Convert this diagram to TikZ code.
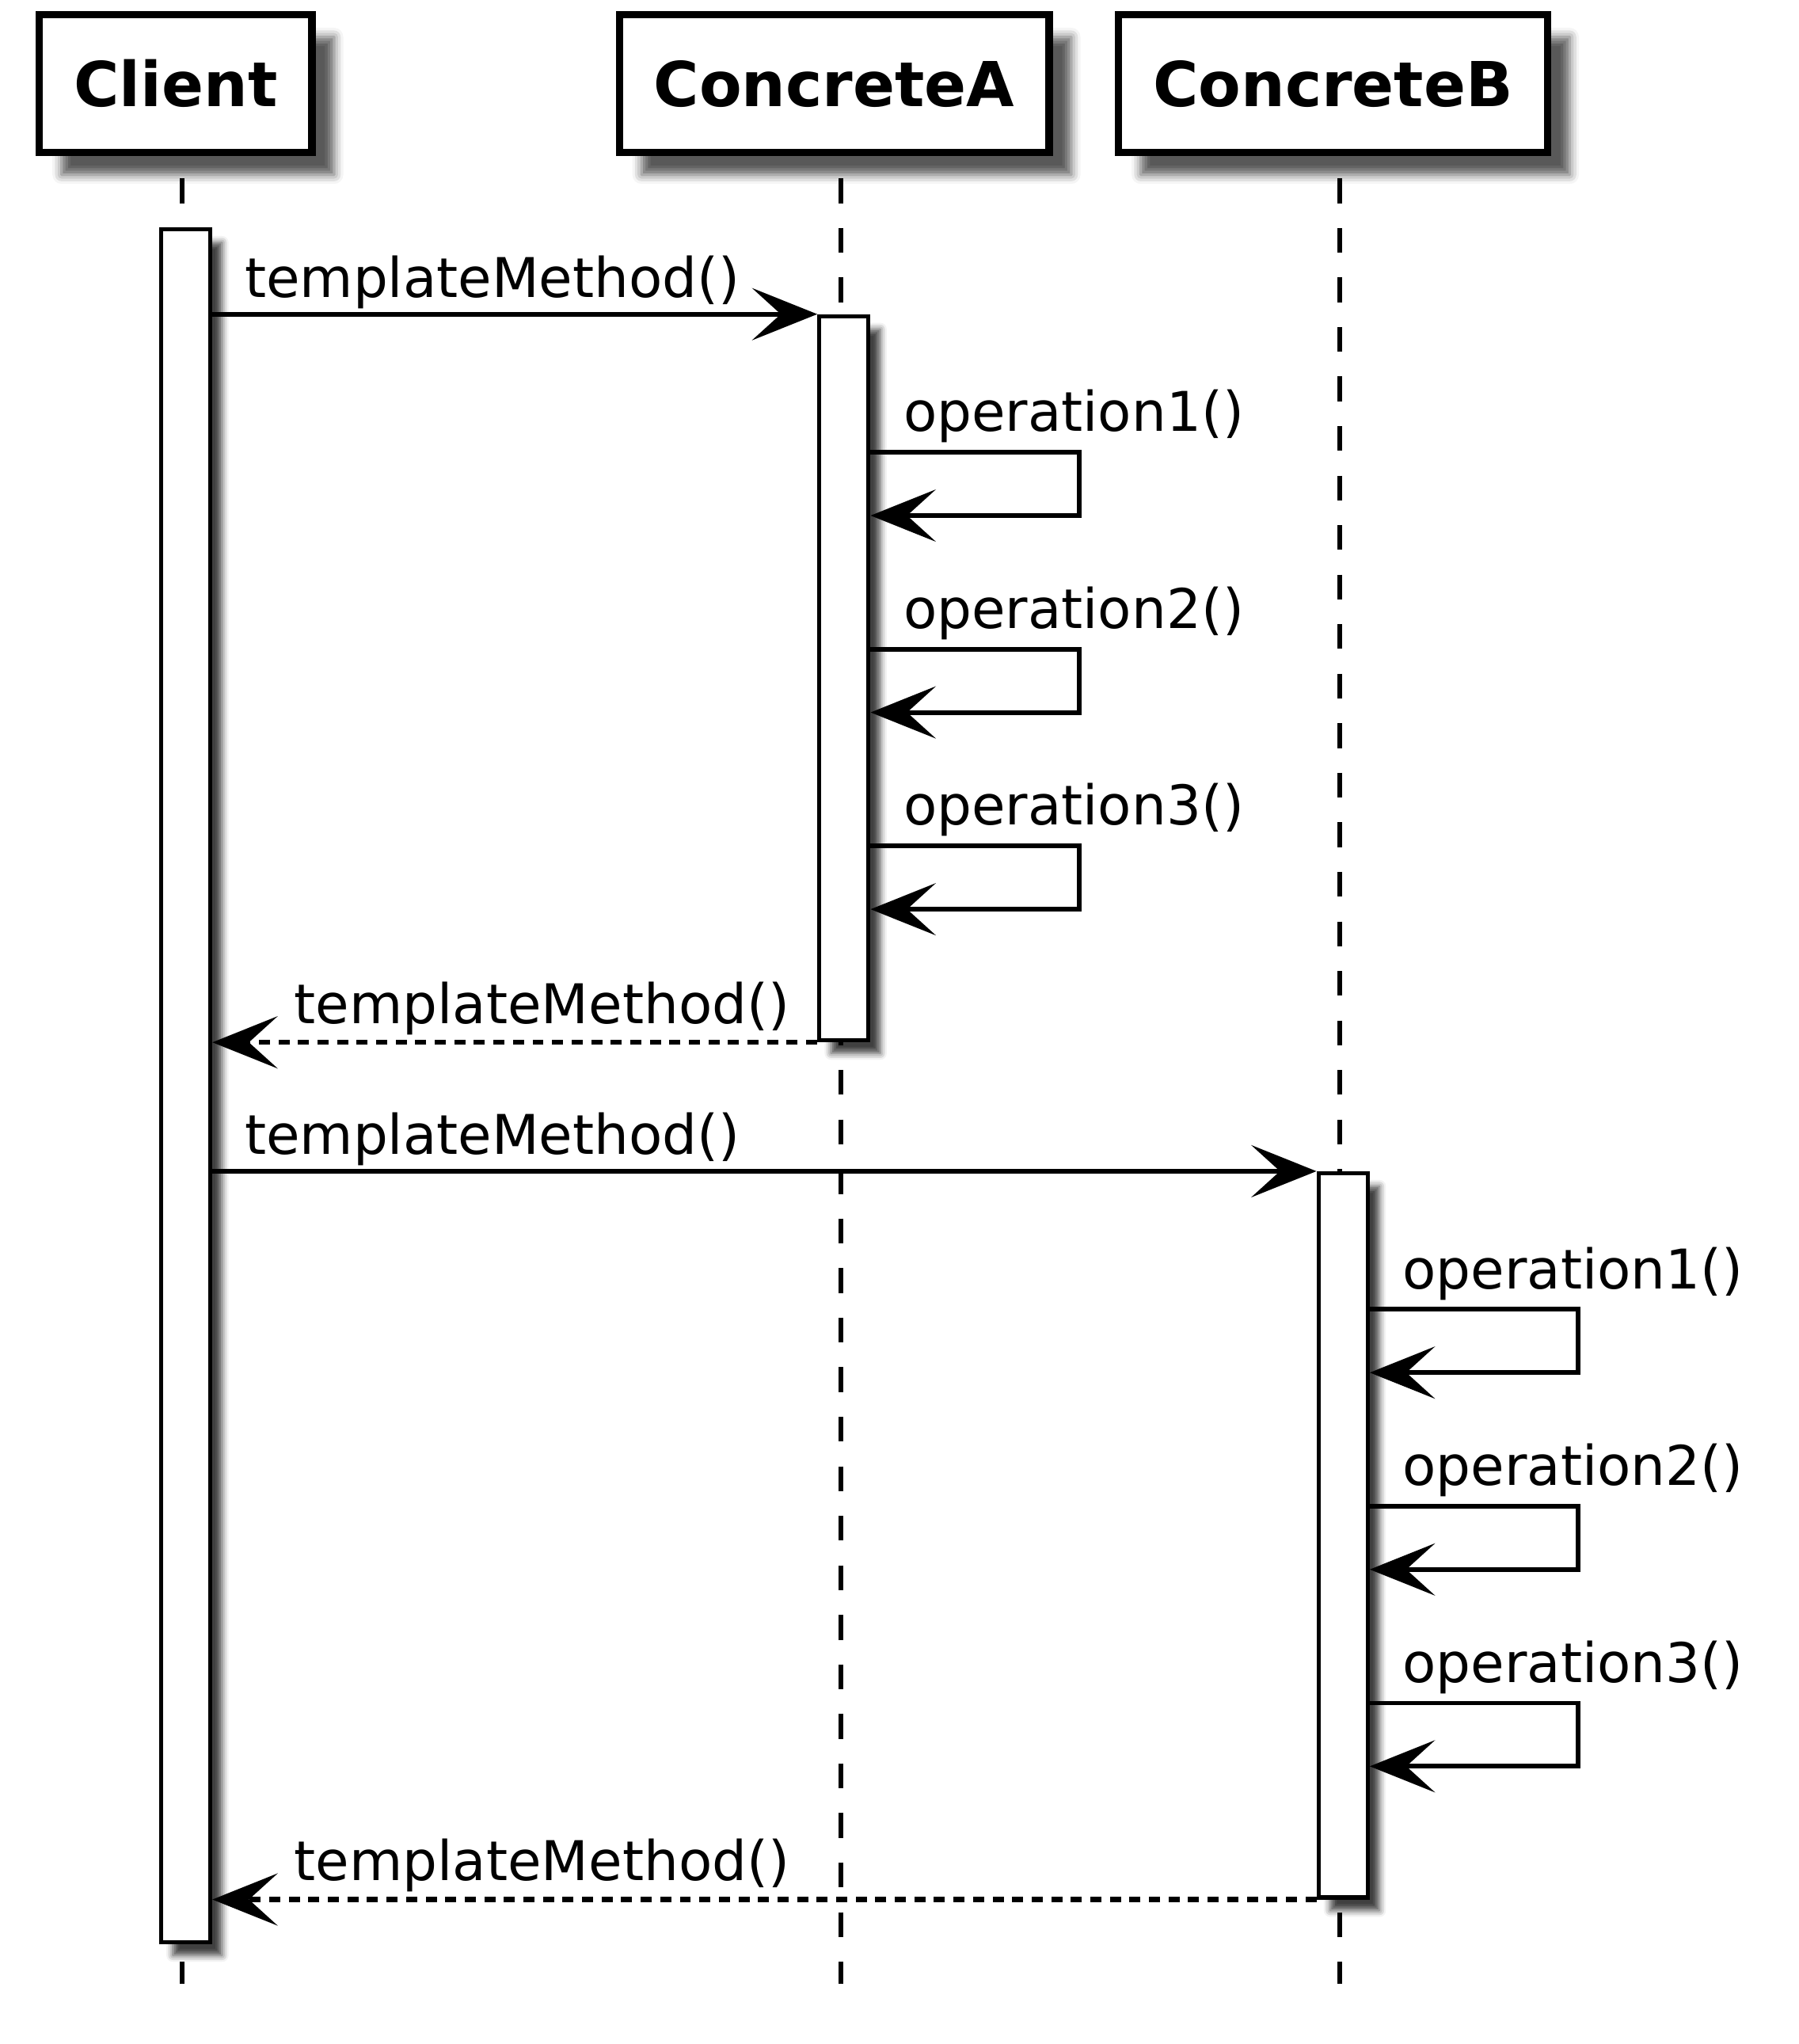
\documentclass[tikz,border=0pt]{standalone}
\usepackage{fontspec}
\setmainfont{DejaVu Sans}
\usetikzlibrary{positioning, arrows.meta, shadows.blur}

\begin{document}
\begin{tikzpicture}[
    x=1pt, y=-1pt,
    head/.style={
        draw,
        line width=5.6pt,
        fill=white,
        font=\fontsize{47.5}{56}\selectfont\bfseries,
        inner xsep=26.5pt,
        minimum height=105.7pt,
        blur shadow={shadow xshift=17pt, shadow yshift=-17pt, shadow blur radius=7pt, shadow opacity=65}
    },
    actbar/.style={
        draw,
        line width=3.2pt,
        fill=white,
        inner sep=0pt,
        minimum width=37.7pt,
        blur shadow={shadow xshift=9pt, shadow yshift=-10pt, shadow blur radius=5pt, shadow opacity=75}
    },
    lifeline/.style={line width=3.5pt, dash pattern=on 19pt off 19pt},
    msg/.style={line width=3.6pt, -{Stealth[length=50pt, width=40pt, inset=22pt]}},
    ret/.style={msg, line width=3.9pt, dash pattern=on 8.5pt off 6.5pt},
    lbl/.style={font=\fontsize{42}{50}\selectfont, inner sep=0pt, anchor=base west}
]
\useasboundingbox (0,0) rectangle (1380,1568);

% === Participants ===
\node[head] (client) at (134.8,64.2) {Client};
\node[head, right=230.2pt of client] (ca) {ConcreteA};
\node[head, right=47.6pt of ca] (cb) {ConcreteB};

% === Lifelines ===
\foreach \p in {client,ca,cb}
    \draw[lifeline] ([xshift=5pt, yshift=-17pt]\p.south) -- ++(0,1385);

% === Activations ===
\node[actbar, minimum height=1314pt] (cbar) at (142.5,833) {};
\node[actbar, minimum height=555.4pt] (abar) at (647.5,520.3) {};
\node[actbar, minimum height=555.5pt] (bbar) at (1030.5,1177.8) {};

% === Calls and returns ===
\draw[msg] (cbar.east |- abar.north west) -- (abar.north west)
    node[lbl, pos=0, xshift=23pt, yshift=13pt] {templateMethod()};
\draw[ret] (abar.south west) -- (cbar.east |- abar.south west)
    node[lbl, pos=1, xshift=61pt, yshift=14.5pt] {templateMethod()};
\draw[msg] (cbar.east |- bbar.north west) -- (bbar.north west)
    node[lbl, pos=0, xshift=23pt, yshift=13pt] {templateMethod()};
\draw[ret] (bbar.south west) -- (cbar.east |- bbar.south west)
    node[lbl, pos=1, xshift=61pt, yshift=14.5pt] {templateMethod()};

% === Self calls ===
\foreach \act in {abar,bbar}
    \foreach \k in {1,2,3}
        \draw[msg] ([yshift={-106-151*(\k-1)}]\act.north east)
            node[lbl, xshift=23.5pt, yshift=16pt] {operation\k()}
            -- ++(160,0) -- ++(0,48.5) -- ++(-160,0);

\end{tikzpicture}
\end{document}
